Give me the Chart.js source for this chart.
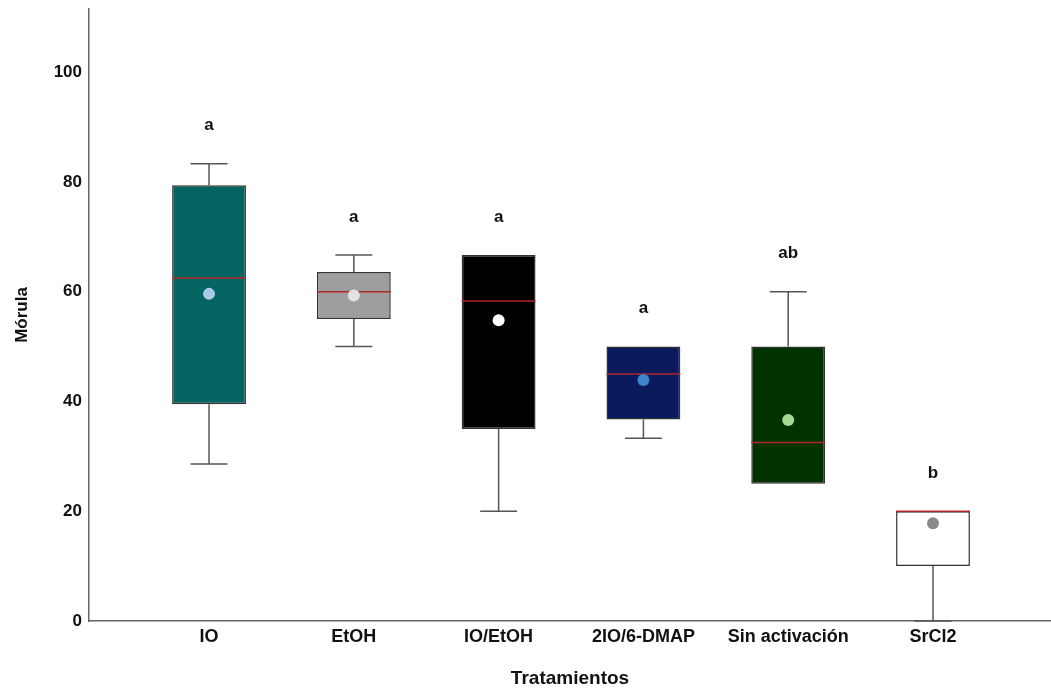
<!DOCTYPE html>
<html>
<head>
<meta charset="utf-8">
<script src="https://cdn.jsdelivr.net/npm/chart.js@4.4.1/dist/chart.umd.min.js"></script>
<style>
  html, body { margin: 0; padding: 0; background: #fff; }
  #wrap { width: 1051px; height: 690px; }
</style>
</head>
<body>
<div id="wrap"><canvas id="boxChart" width="1051" height="690"></canvas></div>
<script>
// Datos (Mórula por tratamiento)
const categories = ['IO', 'EtOH', 'IO/EtOH', '2IO/6-DMAP', 'Sin activación', 'SrCl2'];
const whiskerMin = [28.6, 50, 20, 33.3, 25, 0];
const q1 = [39.5, 55, 35, 36.7, 25, 10];
const medians = [62.5, 60, 58.3, 45, 32.5, 20];
const q3 = [79.4, 63.6, 66.7, 50, 50, 20];
const whiskerMax = [83.3, 66.7, 66.7, 50, 60, 20];
const means = [59.6, 59.3, 54.8, 43.9, 36.6, 17.8];
const letters = ['a', 'a', 'a', 'a', 'ab', 'b'];
const yTicks = [0, 20, 40, 60, 80, 100];

const boxColors = ['#036462', '#9e9e9e', '#000000', '#0b1a5c', '#013300', '#ffffff'];
const dotColors = ['#a9c9ea', '#e2e2e2', '#ffffff', '#3c86cc', '#a6d994', '#8a8a8a'];

const FONT = 'Liberation Sans, Arial, sans-serif';

// Moustaches, medianas y letras dibujadas con las escalas del gráfico
const boxExtras = {
    id: 'boxExtras',
    afterDatasetDraw(chart, args) {
        if (args.index !== 0) return;
        const ctx = chart.ctx;
        const xs = chart.scales.x;
        const ys = chart.scales.y;
        const meta = chart.getDatasetMeta(0);
        ctx.save();
        categories.forEach((c, i) => {
            const bar = meta.data[i];
            const cx = xs.getPixelForValue(i + 1);
            const half = bar.width / 2;
            const cap = half / 2;

            ctx.strokeStyle = '#555';
            ctx.lineWidth = 1.5;
            // moustache superior
            if (whiskerMax[i] > q3[i]) {
                ctx.beginPath();
                ctx.moveTo(cx, ys.getPixelForValue(q3[i]));
                ctx.lineTo(cx, ys.getPixelForValue(whiskerMax[i]));
                ctx.moveTo(cx - cap, ys.getPixelForValue(whiskerMax[i]));
                ctx.lineTo(cx + cap, ys.getPixelForValue(whiskerMax[i]));
                ctx.stroke();
            }
            // moustache inferior
            if (whiskerMin[i] < q1[i]) {
                ctx.beginPath();
                ctx.moveTo(cx, ys.getPixelForValue(q1[i]));
                ctx.lineTo(cx, ys.getPixelForValue(whiskerMin[i]));
                ctx.moveTo(cx - cap, ys.getPixelForValue(whiskerMin[i]));
                ctx.lineTo(cx + cap, ys.getPixelForValue(whiskerMin[i]));
                ctx.stroke();
            }
            // mediana
            ctx.strokeStyle = '#b0262a';
            ctx.lineWidth = 1.5;
            ctx.beginPath();
            const my = ys.getPixelForValue(medians[i]);
            ctx.moveTo(cx - half, my);
            ctx.lineTo(cx + half, my);
            ctx.stroke();

            // letra
            ctx.fillStyle = '#111';
            ctx.font = 'bold 17px ' + FONT;
            ctx.textAlign = 'center';
            ctx.textBaseline = 'middle';
            ctx.fillText(letters[i], cx, ys.getPixelForValue(whiskerMax[i]) - 38);
        });
        ctx.restore();
    }
};

function noPadding(scale) {
    scale.paddingTop = 0;
    scale.paddingBottom = 0;
    scale.paddingLeft = 0;
    scale.paddingRight = 0;
}

const ctx = document.getElementById('boxChart');
new Chart(ctx, {
    type: 'bar',
    data: {
        datasets: [{
            label: 'Caja',
            data: categories.map((c, i) => ({ x: i + 1, y: [q1[i], q3[i]] })),
            backgroundColor: boxColors,
            borderColor: '#333',
            borderWidth: 1.5,
            borderSkipped: false,
            barPercentage: 0.51,
            categoryPercentage: 1,
            order: 2
        }, {
            type: 'scatter',
            label: 'Media',
            data: categories.map((c, i) => ({ x: i + 1, y: means[i] })),
            pointBackgroundColor: dotColors,
            pointBorderWidth: 0,
            pointRadius: 6,
            order: 1
        }]
    },
    options: {
        responsive: false,
        animation: false,
        layout: { autoPadding: false, padding: { top: 9, right: 0, bottom: 0, left: 0 } },
        plugins: {
            legend: { display: false },
            tooltip: { enabled: false }
        },
        scales: {
            x: {
                type: 'linear',
                offset: false,
                min: 0.171,
                max: 6.815,
                grid: { display: false, drawTicks: false, tickLength: 0 },
                border: { color: '#666', width: 1.5 },
                afterBuildTicks(scale) {
                    scale.ticks = categories.map((c, i) => ({ value: i + 1 }));
                },
                afterFit(scale) {
                    scale.height = 690 - 621;
                    noPadding(scale);
                },
                ticks: {
                    color: '#111',
                    padding: 5,
                    maxRotation: 0,
                    autoSkip: false,
                    font: { family: FONT, size: 18, weight: 'bold' },
                    callback: (v) => categories[v - 1] || ''
                },
                title: {
                    display: true,
                    text: 'Tratamientos',
                    color: '#111',
                    padding: { top: 4, bottom: 0 },
                    font: { family: FONT, size: 19, weight: 'bold' }
                }
            },
            y: {
                min: 0,
                max: 111.5,
                grid: { display: false, drawTicks: false, tickLength: 0 },
                border: { color: '#666', width: 1.5 },
                afterBuildTicks(scale) {
                    scale.ticks = yTicks.map(v => ({ value: v }));
                },
                afterFit(scale) {
                    scale.width = 89;
                    noPadding(scale);
                },
                ticks: {
                    color: '#111',
                    padding: 7,
                    font: { family: FONT, size: 17, weight: 'bold' }
                },
                title: {
                    display: true,
                    text: 'Mórula',
                    color: '#111',
                    padding: { top: 12, bottom: 0 },
                    font: { family: FONT, size: 17, weight: 'bold' }
                }
            }
        }
    },
    plugins: [boxExtras]
});
</script>
</body>
</html>
